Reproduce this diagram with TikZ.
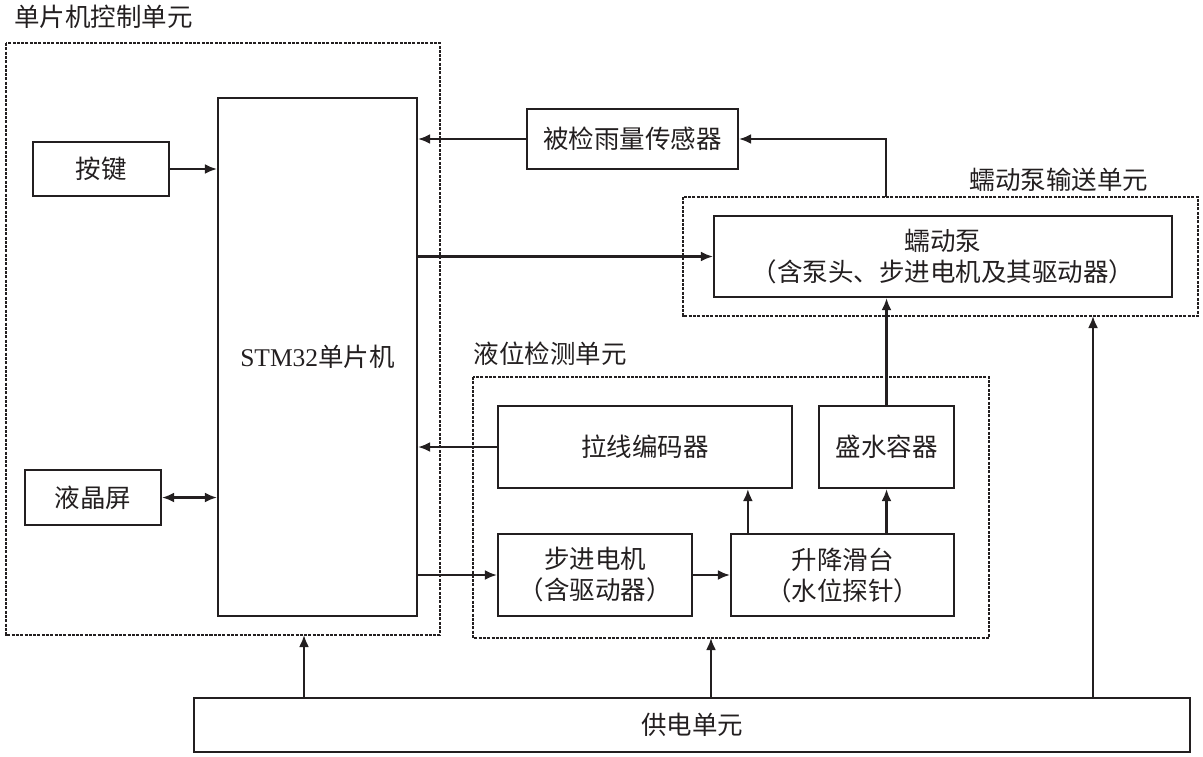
\documentclass[tikz,border=0pt]{standalone}
\usepackage{fontspec}
\setmainfont{Liberation Serif}
\newfontfamily\cjk{Noto Sans CJK SC}
\usetikzlibrary{arrows.meta}
\definecolor{ink}{HTML}{231F20}
\begin{document}
\begin{tikzpicture}[x=1pt,y=-1pt,
  every node/.style={text=ink,font=\cjk\fontsize{25.5}{31}\selectfont},
  box/.style={draw=ink,line width=2.2pt,inner sep=0pt,align=center},
  unit/.style={draw=ink,line width=1.9pt,dash pattern=on 3pt off 1.3pt},
  arr/.style={draw=ink,line width=2.2pt,-{Latex[length=12pt,width=10pt]}},
  darr/.style={draw=ink,line width=2.2pt,{Latex[length=12pt,width=10pt]}-{Latex[length=12pt,width=10pt]}},
  lbl/.style={inner sep=0pt}]
\useasboundingbox (0,0) rectangle (1203,756);
% dashed units
\draw[unit] (6,43) rectangle (440,635);
\draw[unit] (683,197) rectangle (1198,316);
\draw[unit] (473,377) rectangle (989,638);
\node[lbl,anchor=west] (t1) at (14,17) {单片机控制单元};
\node[lbl] (t2) at (1059,180) {蠕动泵输送单元};
\node[lbl] (t3) at (550,354) {液位检测单元};
\coordinate (mcuS) at (304,635);
\coordinate (levelS) at (711,638);
\coordinate (pumpS) at (1093,316);
\coordinate (pumpN) at (886,197);
% boxes
\node[box,minimum width=136,minimum height=54] (key) at (101,169) {按键};
\node[box,minimum width=136,minimum height=55] (lcd) at (93,497.5) {液晶屏};
\node[box,minimum width=199,minimum height=518] (mcu) at (317.5,357) {{\rmfamily STM32}单片机};
\node[box,minimum width=211,minimum height=60] (sensor) at (632.5,139) {被检雨量传感器};
\node[box,minimum width=458,minimum height=81] (pump) at (943,256.5) {蠕动泵\\（含泵头、步进电机及其驱动器）};
\node[box,minimum width=294,minimum height=82] (enc) at (645,447) {拉线编码器};
\node[box,minimum width=135,minimum height=82] (cont) at (886.5,447) {盛水容器};
\node[box,minimum width=194,minimum height=82] (step) at (595,575) {步进电机\\（含驱动器）};
\node[box,minimum width=223,minimum height=82] (lift) at (842.5,575) {升降滑台\\（水位探针）};
\node[box,minimum width=996,minimum height=54] (power) at (692,725) {供电单元};
% connectors
\draw[arr] (key.east) -- (key.east -| mcu.west);
\draw[darr] (lcd.east) -- (lcd.east -| mcu.west);
\draw[arr] (sensor.west) -- (sensor.west -| mcu.east);
\draw[arr] (pumpN) |- (sensor.east);
\draw[arr] (mcu.east |- pump.west) -- (pump.west);
\draw[arr] (enc.west) -- (enc.west -| mcu.east);
\draw[arr] (cont.north) -- (cont.north |- pump.south);
\draw[arr] (mcu.east |- step.west) -- (step.west);
\draw[arr] (step.east) -- (lift.west);
\draw[arr] ([xshift=18pt]lift.north west) -- ([xshift=18pt]lift.north west |- enc.south);
\draw[arr] (cont.south |- lift.north) -- (cont.south);
\draw[arr] (power.north -| mcuS) -- (mcuS);
\draw[arr] (power.north -| levelS) -- (levelS);
\draw[arr] (power.north -| pumpS) -- (pumpS);
\end{tikzpicture}
\end{document}
